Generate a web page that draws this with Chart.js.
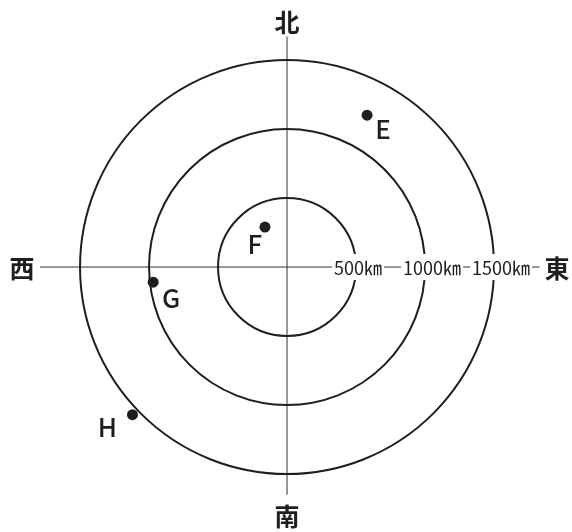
<!DOCTYPE html>
<html>
<head>
<meta charset="utf-8">
<script src="https://cdn.jsdelivr.net/npm/chart.js@4"></script>
<style>html,body{margin:0;background:#fff}</style>
</head>
<body>
<canvas id="mapa" width="572" height="532"></canvas>
<script>
// Datos (km respecto al centro; x = este, y = norte)
const nombresPuntos = ['E', 'F', 'G', 'H'];
const puntosX = [580, -160, -970, -1120];
const puntosY = [1100, 290, -110, -1070];
const radiosKm = [500, 1000, 1500];
const etiquetasRadio = ['500㎞', '1000㎞', '1500㎞'];
const direcciones = ['北', '南', '西', '東'];

(function(){
  const tinta = '#1e1e1e';
  const fuente = '"Noto Sans CJK JP", "Noto Sans", sans-serif';
  // desplazamiento de cada letra respecto a su punto, en píxeles
  const desplazLetras = [[16, 14], [-10, 17], [18, 16], [-25, 12]];

  const dibujoMapa = {
    id: 'dibujoMapa',
    beforeDatasetsDraw(chart) {
      const { ctx, scales: { x, y } } = chart;
      const cx = x.getPixelForValue(0);
      const cy = y.getPixelForValue(0);
      ctx.save();

      // ejes norte-sur y este-oeste
      ctx.strokeStyle = '#333';
      ctx.lineWidth = 1;
      ctx.beginPath();
      ctx.moveTo(cx, y.getPixelForValue(1670));
      ctx.lineTo(cx, y.getPixelForValue(-1650));
      ctx.moveTo(x.getPixelForValue(-1790), cy);
      ctx.lineTo(x.getPixelForValue(1830), cy);
      ctx.stroke();

      // círculos de distancia
      ctx.strokeStyle = tinta;
      ctx.lineWidth = 2;
      radiosKm.forEach((r) => {
        const rp = x.getPixelForValue(r) - cx;
        ctx.beginPath();
        ctx.arc(cx, cy, rp, 0, Math.PI * 2);
        ctx.stroke();
      });

      // rótulos de distancia sobre fondo blanco
      ctx.font = '18px ' + fuente;
      ctx.textBaseline = 'middle';
      ctx.textAlign = 'left';
      radiosKm.forEach((r, i) => {
        const px = x.getPixelForValue(r) - 22;
        const ancho = ctx.measureText(etiquetasRadio[i]).width;
        ctx.fillStyle = '#fff';
        ctx.fillRect(px - 2, cy - 13, ancho + 4, 26);
        ctx.fillStyle = tinta;
        ctx.fillText(etiquetasRadio[i], px, cy + 1);
      });

      // puntos cardinales
      ctx.font = 'bold 25px ' + fuente;
      ctx.textAlign = 'center';
      ctx.fillStyle = tinta;
      ctx.fillText(direcciones[0], cx, 22);
      ctx.fillText(direcciones[1], cx, chart.height - 16);
      ctx.fillText(direcciones[2], 22, cy + 1);
      ctx.fillText(direcciones[3], chart.width - 15, cy + 1);
      ctx.restore();
    },
    afterDatasetsDraw(chart) {
      const { ctx } = chart;
      const meta = chart.getDatasetMeta(0);
      ctx.save();
      ctx.font = '500 26px ' + fuente;
      ctx.textAlign = 'center';
      ctx.textBaseline = 'middle';
      ctx.fillStyle = tinta;
      meta.data.forEach((p, i) => {
        const [dx, dy] = desplazLetras[i];
        ctx.fillText(nombresPuntos[i], p.x + dx, p.y + dy);
      });
      ctx.restore();
    }
  };

  const contexto = document.getElementById('mapa').getContext('2d');
  new Chart(contexto, {
    type: 'scatter',
    data: {
      datasets: [{
        data: puntosX.map((v, i) => ({ x: v, y: puntosY[i] })),
        pointRadius: 5.5,
        pointBackgroundColor: tinta,
        pointBorderWidth: 0
      }]
    },
    options: {
      responsive: false,
      animation: false,
      layout: { padding: 0, autoPadding: false },
      plugins: {
        legend: { display: false },
        tooltip: { enabled: false }
      },
      scales: {
        x: { type: 'linear', display: false, min: -2080, max: 2065 },
        y: { type: 'linear', display: false, min: -1920, max: 1935 }
      }
    },
    plugins: [dibujoMapa]
  });
})();
</script>
</body>
</html>
